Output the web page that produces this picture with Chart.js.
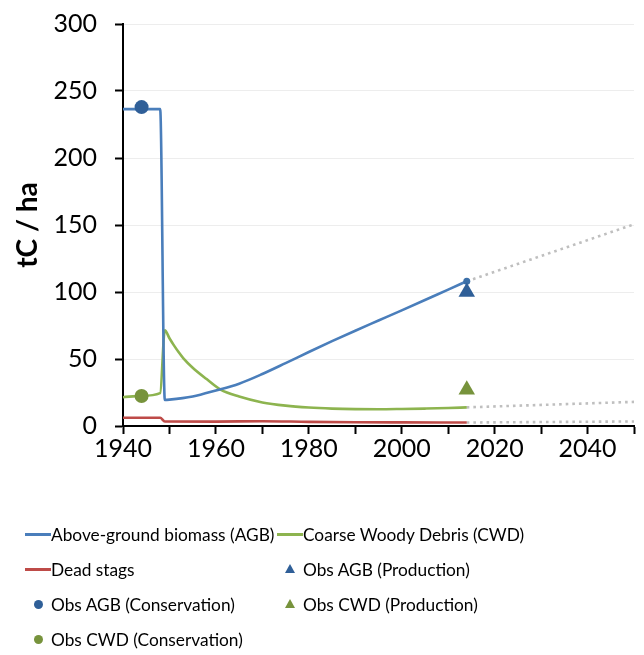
<!DOCTYPE html>
<html>
<head>
<meta charset="utf-8">
<script src="https://cdn.jsdelivr.net/npm/chart.js@4.4.1/dist/chart.umd.min.js"></script>
<style>
  html,body{margin:0;padding:0;background:#fff;}
  #wrap{position:relative;width:644px;height:655px;}
  #box{position:absolute;left:0;top:0;width:644px;height:470px;}
  #legend{position:absolute;left:0;top:0;width:644px;height:655px;pointer-events:none;font-family:Lato,"Open Sans",sans-serif;font-size:17.3px;color:#000;}
  .item{position:absolute;height:24px;display:flex;align-items:center;white-space:nowrap;}
  .sym{width:26px;height:24px;position:relative;flex:none;}
  .sym .ln{position:absolute;left:0;right:0;top:11px;height:3px;}
  .sym .dot{position:absolute;left:9px;top:8px;width:9px;height:9px;border-radius:50%;}
  .sym .tri{position:absolute;left:8px;top:7px;width:0;height:0;border-left:5px solid transparent;border-right:5px solid transparent;border-bottom-width:9px;border-bottom-style:solid;}
</style>
</head>
<body>
<div id="wrap">
  <div id="box"><canvas id="chart"></canvas></div>
  <div id="legend"></div>
</div>
<script>
// modelled series (year, tC/ha)
const agbYears = [1940, 1948, 1949, 1950, 1955, 1960, 1965, 1970, 1975, 1980, 1985, 1990, 1995, 2000, 2005, 2010, 2014];
const agbValues = [236.5, 236.5, 19.5, 19.7, 22, 26.5, 31.6, 38.8, 46.9, 55.2, 63.3, 71.1, 78.7, 86.3, 94, 101.8, 108];

const cwdYears = [1940, 1944, 1948, 1949, 1950, 1951, 1952, 1953, 1955, 1958, 1961, 1965, 1970, 1975, 1980, 1985, 1990, 1995, 2000, 2005, 2010, 2014];
const cwdValues = [21.5, 22.5, 24.5, 71.5, 65.5, 60, 55, 50.5, 43.5, 35, 27.2, 22, 17.6, 15.2, 13.8, 13, 12.6, 12.5, 12.7, 13, 13.4, 13.9];

const stagYears = [1940, 1948, 1949, 1960, 1970, 1980, 1990, 2000, 2014];
const stagValues = [6.2, 6.2, 3.4, 3.3, 3.6, 3.1, 2.8, 2.7, 2.6];

// dotted projections
const projYears = [2014, 2050];
const agbProj = [108, 150.5];
const cwdProj = [13.9, 18];
const stagProj = [2.6, 3.4];

// observations
const obsConsYear = [1944];
const obsAgbCons = [238];
const obsCwdCons = [22.4];
const obsProdYear = [2014];
const obsAgbProd = [100];
const obsCwdProd = [27];

const xTicks = { min: 1940, max: 2050, step: 10, labelEvery: 20 };
const yTicks = { min: 0, max: 300, step: 50 };

const pts = (xs, ys) => xs.map((x, i) => ({ x, y: ys[i] }));

const BLUE = '#4a7ebb', BLUE_D = '#2f5f98';
const GREEN = '#8db44f', GREEN_D = '#77933c';
const RED = '#be4b48';
const GREY = '#bfbfbf';

const lineDs = (label, data, color) => ({
  type: 'line', label, data, borderColor: color, backgroundColor: color,
  borderWidth: 2.6, pointRadius: 0, cubicInterpolationMode: 'monotone', order: 1, fill: false
});
const projDs = (data) => ({
  type: 'line', label: '', data, borderColor: GREY, borderWidth: 2.6,
  borderDash: [2.6, 4], pointRadius: 0, order: 2, fill: false
});
const markDs = (label, data, color, style, r) => ({
  type: 'scatter', label, data, backgroundColor: color, borderColor: color,
  pointStyle: style, pointRadius: r, pointHoverRadius: r, borderWidth: 0, order: 0
});

const agbLine = lineDs('Above-ground biomass (AGB)', pts(agbYears, agbValues), BLUE);
agbLine.pointRadius = (c) => c.dataIndex === agbYears.length - 1 ? 3.5 : 0;
agbLine.pointBackgroundColor = '#3b6fa8';
agbLine.pointBorderWidth = 0;

const datasets = [
  agbLine,
  lineDs('Coarse Woody Debris (CWD)', pts(cwdYears, cwdValues), GREEN),
  lineDs('Dead stags', pts(stagYears, stagValues), RED),
  markDs('Obs AGB (Production)', pts(obsProdYear, obsAgbProd), BLUE_D, 'triangle', 9.5),
  markDs('Obs AGB (Conservation)', pts(obsConsYear, obsAgbCons), BLUE_D, 'circle', 7),
  markDs('Obs CWD (Production)', pts(obsProdYear, obsCwdProd), GREEN_D, 'triangle', 9.5),
  markDs('Obs CWD (Conservation)', pts(obsConsYear, obsCwdCons), GREEN_D, 'circle', 7),
  projDs(pts(projYears, agbProj)),
  projDs(pts(projYears, cwdProj)),
  projDs(pts(projYears, stagProj))
];

const FONT = 'Lato, "Open Sans", sans-serif';

const chart = new Chart(document.getElementById('chart'), {
  data: { datasets },
  options: {
    responsive: true,
    maintainAspectRatio: false,
    animation: false,
    layout: { padding: { left: 0, right: 10, top: 24, bottom: 0 } },
    plugins: { legend: { display: false }, tooltip: { enabled: false } },
    scales: {
      x: {
        type: 'linear', min: xTicks.min, max: xTicks.max,
        afterFit: (s) => { s.height = 44; },
        border: { color: '#000', width: 2 },
        grid: { drawOnChartArea: false, tickColor: '#000', tickLength: 8, tickWidth: 2 },
        ticks: {
          stepSize: xTicks.step, padding: 0, color: '#000', maxRotation: 0, autoSkip: false,
          font: { family: FONT, size: 25 },
          callback: (v) => v % xTicks.labelEvery === 0 ? String(v) : ''
        }
      },
      y: {
        min: yTicks.min, max: yTicks.max,
        // fixed width; don't let the tick padding push the plot top down
        afterFit: (s) => { s.width = 123; s.paddingTop = 15; s.paddingBottom = 15; },
        border: { color: '#000', width: 2 },
        grid: { color: '#ededed', lineWidth: 1, tickColor: '#000', tickLength: 8, tickWidth: 2 },
        ticks: { stepSize: yTicks.step, padding: 18, color: '#000', font: { family: FONT, size: 25 } },
        title: { display: true, text: 'tC / ha', color: '#000', padding: { top: 11, bottom: 0 },
                 font: { family: FONT, size: 28, weight: 'bold' } }
      }
    }
  }
});

// legend laid out like the original: two columns, row-major
const legendEl = document.getElementById('legend');
const rowTop = 522, rowGap = 35, colLeft = [25, 277];
chart.data.datasets.filter(d => d.label).forEach((d, i) => {
  const item = document.createElement('div');
  item.className = 'item';
  item.style.left = colLeft[i % 2] + 'px';
  item.style.top = (rowTop + Math.floor(i / 2) * rowGap) + 'px';
  const sym = document.createElement('span');
  sym.className = 'sym';
  const mark = document.createElement('span');
  if (d.type === 'line') { mark.className = 'ln'; mark.style.background = d.borderColor; }
  else if (d.pointStyle === 'circle') { mark.className = 'dot'; mark.style.background = d.backgroundColor; }
  else { mark.className = 'tri'; mark.style.borderBottomColor = d.backgroundColor; }
  sym.appendChild(mark);
  const txt = document.createElement('span');
  txt.textContent = d.label;
  item.appendChild(sym);
  item.appendChild(txt);
  legendEl.appendChild(item);
});
</script>
</body>
</html>
